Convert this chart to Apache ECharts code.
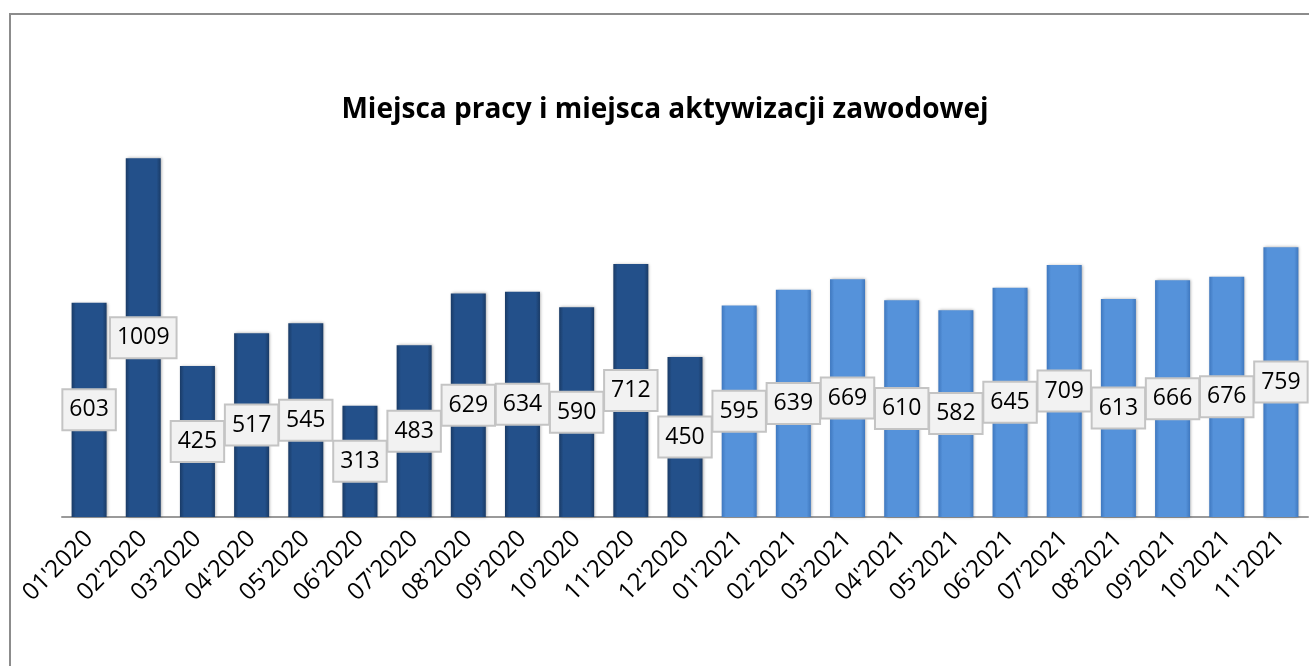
<!DOCTYPE html>
<html>
<head>
<meta charset="utf-8">
<script src="https://cdn.jsdelivr.net/npm/echarts@6/dist/echarts.min.js"></script>
<style>
  html, body { margin: 0; padding: 0; background: #fff; }
  #main { width: 1309px; height: 666px; }
</style>
</head>
<body>
<div id="main"></div>
<script>
// miesiące
var months = ["01'2020", "02'2020", "03'2020", "04'2020", "05'2020", "06'2020", "07'2020", "08'2020",
  "09'2020", "10'2020", "11'2020", "12'2020", "01'2021", "02'2021", "03'2021", "04'2021", "05'2021",
  "06'2021", "07'2021", "08'2021", "09'2021", "10'2021", "11'2021"];
// liczba miejsc
var values = [603, 1009, 425, 517, 545, 313, 483, 629, 634, 590, 712, 450,
  595, 639, 669, 610, 582, 645, 709, 613, 666, 676, 759];
var year2020Count = 12;

function barGrad(edge, mid) {
  return new echarts.graphic.LinearGradient(0, 0, 1, 0, [
    { offset: 0, color: edge },
    { offset: 0.12, color: mid },
    { offset: 0.88, color: mid },
    { offset: 1, color: edge }
  ]);
}
var darkFill = barGrad('#1a3b66', '#23508a');
var lightFill = barGrad('#3f78bf', '#5592da');

var chart = echarts.init(document.getElementById('main'));
var option = {
  animation: false,
  title: {
    text: 'Miejsca pracy i miejsca aktywizacji zawodowej',
    left: 660, top: 91, textAlign: 'center',
    textStyle: { fontFamily: 'Open Sans', fontWeight: 'bold', fontSize: 28, color: '#000' }
  },
  graphic: [{
    type: 'rect', shape: { x: 10, y: 14, width: 1400, height: 700 },
    style: { fill: 'none', stroke: '#8c8c8c', lineWidth: 2 }, z: -1
  }],
  grid: { left: 62, right: 1, top: 126, bottom: 149 },
  xAxis: {
    type: 'category',
    data: months,
    axisTick: { show: false },
    axisLine: { lineStyle: { color: '#9a9a9a', width: 2 } },
    axisLabel: {
      rotate: 45, interval: 0, margin: 18,
      fontFamily: 'Open Sans', fontSize: 24, color: '#000'
    }
  },
  yAxis: {
    type: 'value', min: 0, max: 1100, show: false, splitLine: { show: false }
  },
  series: [{
    type: 'bar',
    barWidth: 35,
    data: values.map(function (v, i) {
      return { value: v, itemStyle: { color: i < year2020Count ? darkFill : lightFill } };
    }),
    itemStyle: {
      shadowColor: 'rgba(0,0,0,0.35)', shadowBlur: 3, shadowOffsetX: 1, shadowOffsetY: 0
    },
    label: {
      show: true, position: 'inside',
      fontFamily: 'Open Sans', fontSize: 23, color: '#000',
      backgroundColor: '#f2f2f2', borderColor: '#c4c4c4', borderWidth: 2,
      padding: [9, 6, 7, 6]
    }
  }]
};
chart.setOption(option);
</script>
</body>
</html>
